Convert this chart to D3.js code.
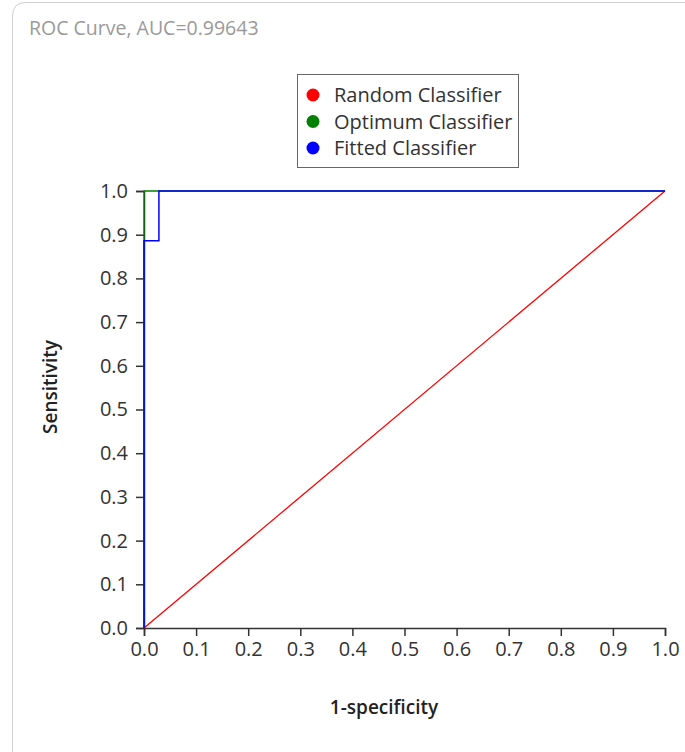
<!DOCTYPE html>
<html><head><meta charset="utf-8">
<script src="https://cdn.jsdelivr.net/npm/d3@7"></script>
<style>body{margin:0;background:#fff;} svg{display:block;font-family:"Open Sans",sans-serif;}</style>
</head><body>
<script>
const titleText = "ROC Curve, AUC=0.99643";
const seriesNames = ["Random Classifier", "Optimum Classifier", "Fitted Classifier"];
const seriesColors = ["#ff0000", "#008000", "#0000ff"];
const randomX = [0, 1];
const randomY = [0, 1];
const optimumX = [0, 0, 1];
const optimumY = [0, 1, 1];
const fittedX = [0, 0, 0.0286, 0.0286, 1];
const fittedY = [0, 0.886, 0.886, 1, 1];
const tickValues = [0, 0.1, 0.2, 0.3, 0.4, 0.5, 0.6, 0.7, 0.8, 0.9, 1.0];

const W = 685, H = 752;
const svg = d3.select("body").append("svg").attr("width", W).attr("height", H);

// frame
svg.append("path").attr("d", "M12.5,752 L12.5,16 Q12.5,2.5 26,2.5 L685,2.5")
  .attr("fill", "none").attr("stroke", "#d0d0d0").attr("stroke-width", 1);

svg.append("text").attr("x", 29).attr("y", 35).attr("font-size", 19.5).attr("fill", "#9a9a9a").text(titleText);

const x = d3.scaleLinear().domain([0, 1]).range([144, 665]);
const y = d3.scaleLinear().domain([0, 1]).range([628, 191]);

const xAxis = svg.append("g").attr("transform", "translate(0,628)")
  .call(d3.axisBottom(x).tickValues(tickValues).tickFormat(d3.format(".1f")).tickSize(8).tickPadding(6));
const yAxis = svg.append("g").attr("transform", "translate(144,0)")
  .call(d3.axisLeft(y).tickValues(tickValues).tickFormat(d3.format(".1f")).tickSize(8).tickPadding(8));
[xAxis, yAxis].forEach(a => {
  a.selectAll("path,line").attr("stroke", "#333").attr("stroke-width", 1.5);
  a.selectAll("text").attr("font-size", 20).attr("fill", "#333").attr("font-family", "Open Sans, sans-serif");
});

const line = d3.line().x(d => x(d[0])).y(d => y(d[1]));
const series = [
  d3.zip(randomX, randomY),
  d3.zip(optimumX, optimumY),
  d3.zip(fittedX, fittedY)
];
series.forEach((s, i) => {
  svg.append("path").datum(s).attr("d", line).attr("fill", "none")
    .attr("stroke", seriesColors[i]).attr("stroke-width", i === 2 ? 1.5 : 1.3);
});

// axis titles
svg.append("text").attr("x", 384).attr("y", 714).attr("text-anchor", "middle")
  .attr("font-size", 19).attr("font-weight", 600).attr("fill", "#222").text("1-specificity");
svg.append("text").attr("transform", "translate(57,387) rotate(-90)").attr("text-anchor", "middle")
  .attr("font-size", 19).attr("font-weight", 600).attr("fill", "#222").text("Sensitivity");

// legend
const lg = svg.append("g");
lg.append("rect").attr("x", 297.5).attr("y", 74.5).attr("width", 221).attr("height", 93)
  .attr("fill", "#fff").attr("stroke", "#666").attr("stroke-width", 1);
seriesNames.forEach((n, i) => {
  const cy = 95 + i * 26.5;
  lg.append("circle").attr("cx", 313).attr("cy", cy).attr("r", 6.5).attr("fill", seriesColors[i]);
  lg.append("text").attr("x", 334).attr("y", cy + 7).attr("font-size", 20).attr("fill", "#333").text(n);
});
</script>
</body></html>
